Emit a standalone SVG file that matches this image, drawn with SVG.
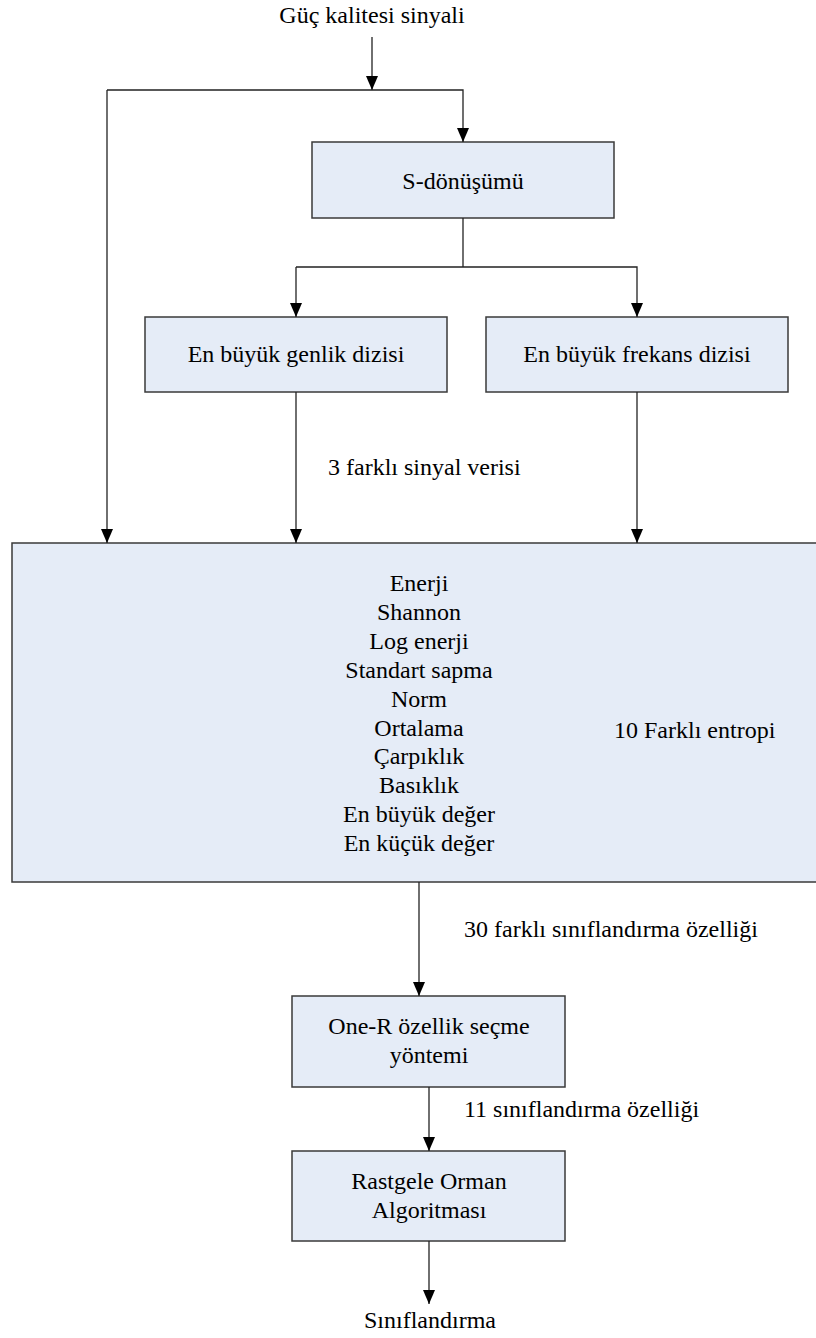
<svg xmlns="http://www.w3.org/2000/svg" width="816" height="1338" viewBox="0 0 816 1338" font-family="Liberation Serif, serif" font-size="24">
<style>
text{fill:#000}
.box{fill:#E5ECF7;stroke:#3a3a3a;stroke-width:1.5}
.c{text-anchor:middle}
.ln{fill:none;stroke:#222;stroke-width:1.3}
</style>
<defs>
<marker id="arr" markerWidth="14" markerHeight="12" refX="14" refY="6" orient="auto" markerUnits="userSpaceOnUse" viewBox="0 0 14 12">
<path d="M0,0 L14,6 L0,12 Z" fill="#000"/>
</marker>
</defs>
<g id="input"><text class="c" x="372" y="23">Güç kalitesi sinyali</text></g>
<g id="s-transform"><rect class="box" x="312" y="142" width="302" height="76"/><text class="c" x="463" y="189">S-dönüşümü</text></g>
<g id="amp"><rect class="box" x="145" y="317" width="302" height="75"/><text class="c" x="296" y="362">En büyük genlik dizisi</text></g>
<g id="freq"><rect class="box" x="486" y="317" width="302" height="75"/><text class="c" x="637" y="362">En büyük frekans dizisi</text></g>
<g id="entropy"><rect class="box" x="12" y="543" width="820" height="339"/>
<text class="c" x="419" y="591">Enerji</text>
<text class="c" x="419" y="620">Shannon</text>
<text class="c" x="419" y="649">Log enerji</text>
<text class="c" x="419" y="678">Standart sapma</text>
<text class="c" x="419" y="707">Norm</text>
<text class="c" x="419" y="736">Ortalama</text>
<text class="c" x="419" y="764">Çarpıklık</text>
<text class="c" x="419" y="793">Basıklık</text>
<text class="c" x="419" y="822">En büyük değer</text>
<text class="c" x="419" y="851">En küçük değer</text>
<text x="614" y="738">10 Farklı entropi</text>
</g>
<g id="oner"><rect class="box" x="292" y="996" width="273" height="91"/><text class="c" x="429" y="1034">One-R özellik seçme</text><text class="c" x="429" y="1063">yöntemi</text></g>
<g id="rf"><rect class="box" x="292" y="1151" width="273" height="90"/><text class="c" x="429" y="1189">Rastgele Orman</text><text class="c" x="429" y="1218">Algoritması</text></g>
<g id="output"><text class="c" x="430" y="1328">Sınıflandırma</text></g>
<g id="connectors">
<line class="ln" x1="372" y1="37" x2="372" y2="90" marker-end="url(#arr)"/>
<polyline class="ln" points="107,90 463,90 463,142" marker-end="url(#arr)"/>
<line class="ln" x1="107" y1="90" x2="107" y2="543" marker-end="url(#arr)"/>
<line class="ln" x1="463" y1="218" x2="463" y2="267"/>
<polyline class="ln" points="296,267 637,267 637,317" marker-end="url(#arr)"/>
<line class="ln" x1="296" y1="267" x2="296" y2="317" marker-end="url(#arr)"/>
<line class="ln" x1="296" y1="392" x2="296" y2="543" marker-end="url(#arr)"/>
<line class="ln" x1="637" y1="392" x2="637" y2="543" marker-end="url(#arr)"/>
<line class="ln" x1="419" y1="882" x2="419" y2="996" marker-end="url(#arr)"/>
<line class="ln" x1="429" y1="1087" x2="429" y2="1151" marker-end="url(#arr)"/>
<line class="ln" x1="429" y1="1241" x2="429" y2="1304" marker-end="url(#arr)"/>
<text x="328" y="475">3 farklı sinyal verisi</text>
<text x="464" y="937">30 farklı sınıflandırma özelliği</text>
<text x="464" y="1117">11 sınıflandırma özelliği</text>
</g>
</svg>
